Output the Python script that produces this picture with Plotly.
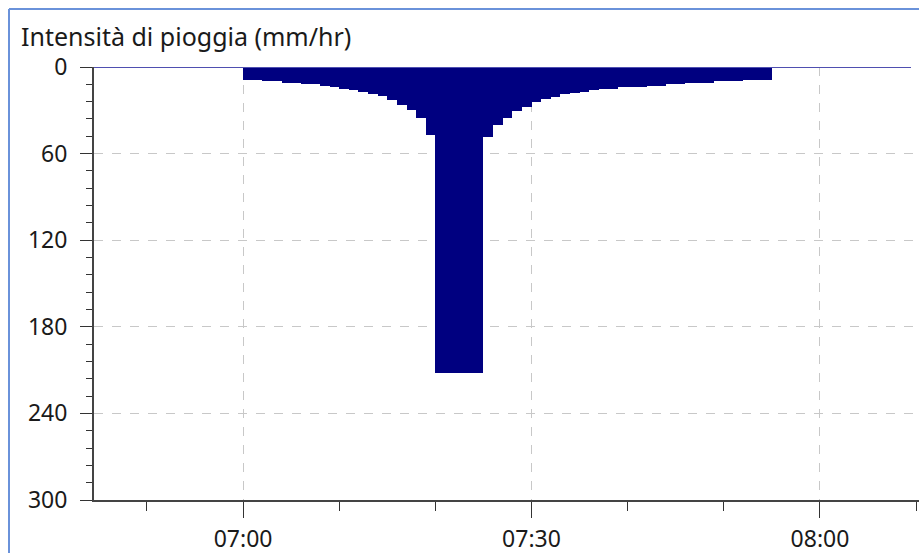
import plotly.graph_objects as go

# Rain intensity (mm/hr), one value per minute starting at 07:00
minutes = list(range(0, 55))
intensity = [
    9, 9, 10, 10, 11, 11, 12, 12, 13.2, 14.1,
    15.0, 15.9, 17.3, 18.7, 20.3, 22.9, 26.1, 29.6, 35.6, 46.9,
    212, 212, 212, 212, 212,
    48.5, 40.5, 35.0, 30.4, 27.4, 24.5, 22.3, 20.5, 19.0, 17.7,
    17.2, 16.0, 15.0, 15.0, 14.0, 14.0, 14.0, 13.0, 13.0, 12.0,
    12.0, 11.0, 11.0, 11.0, 10.0, 10.0, 10.0, 9.0, 9.0, 9.0,
]
times = [f"2024-01-01 {7 + m // 60:02d}:{m % 60:02d}:00" for m in minutes]

y_title = "Intensità di pioggia (mm/hr)"
x_tickvals = ["2024-01-01 07:00:00", "2024-01-01 07:30:00", "2024-01-01 08:00:00"]
x_ticktext = ["07:00", "07:30", "08:00"]

W, H = 919, 553
L, R, T, B = 94, 0, 67, 53
pw, ph = W - L - R, H - T - B

FONT = "Noto Sans"
TICK_SIZE = 23
TITLE_SIZE = 25

fig = go.Figure()
fig.add_trace(go.Bar(
    x=times, y=intensity,
    width=60000, offset=0,
    marker=dict(color="#000080", line=dict(width=0)),
    hoverinfo="x+y",
))

fig.update_layout(
    width=W, height=H,
    margin=dict(l=L, r=R, t=T, b=B, autoexpand=False),
    paper_bgcolor="white", plot_bgcolor="white",
    showlegend=False, bargap=0,
    font=dict(family=FONT, size=TICK_SIZE, color="#1a1a1a"),
    xaxis=dict(
        type="date", automargin=False,
        range=["2024-01-01 06:44:30", "2024-01-01 08:10:18"],
        tickmode="array", tickvals=x_tickvals, ticktext=x_ticktext,
        ticks="outside", ticklen=16, tickwidth=1, tickcolor="#333",
        ticklabelstandoff=1,
        showline=True, linecolor="#444", linewidth=2,
        showgrid=True, gridcolor="#c8c8c8", griddash="dash", gridwidth=1,
        zeroline=False,
        minor=dict(dtick=600000, tick0="2024-01-01 07:00:00", ticks="outside",
                   ticklen=9, tickcolor="#333", tickwidth=1, showgrid=False),
        tickfont=dict(size=TICK_SIZE, family=FONT, color="#1a1a1a"),
    ),
    yaxis=dict(
        automargin=False,
        range=[300, 0],
        tickmode="linear", tick0=0, dtick=60,
        ticks="outside", ticklen=12, tickwidth=1, tickcolor="#333",
        ticklabelstandoff=8,
        showline=True, linecolor="#444", linewidth=2,
        showgrid=True, gridcolor="#c8c8c8", griddash="dash", gridwidth=1,
        zeroline=False,
        minor=dict(dtick=12, tick0=0, ticks="outside", ticklen=6,
                   tickcolor="#333", tickwidth=1, showgrid=False),
        tickfont=dict(size=TICK_SIZE, family=FONT, color="#1a1a1a"),
    ),
)

def px_x(px):
    return (px - L) / pw

def px_y(py):
    return (H - B - py) / ph

# zero baseline line (blue) across plot
fig.add_shape(type="line", xref="paper", yref="y",
              x0=0, x1=px_x(911), y0=0, y1=0,
              line=dict(color="#4f4fb0", width=2), layer="above")

# outer frame (top and left edges)
fig.add_shape(type="line", xref="paper", yref="paper",
              x0=px_x(9), x1=px_x(925), y0=px_y(9), y1=px_y(9),
              line=dict(color="#6a92da", width=2))
fig.add_shape(type="line", xref="paper", yref="paper",
              x0=px_x(9), x1=px_x(9), y0=px_y(9), y1=px_y(560),
              line=dict(color="#6a92da", width=2))

fig.add_annotation(
    text=y_title, xref="paper", yref="paper",
    x=px_x(19), y=px_y(36), xanchor="left", yanchor="middle",
    showarrow=False, font=dict(family=FONT, size=TITLE_SIZE, color="#1a1a1a"),
)

fig.write_html(
    "out.html",
    config={"displayModeBar": False},
    post_script="document.body.style.margin='0';document.body.style.overflow='hidden';",
)
